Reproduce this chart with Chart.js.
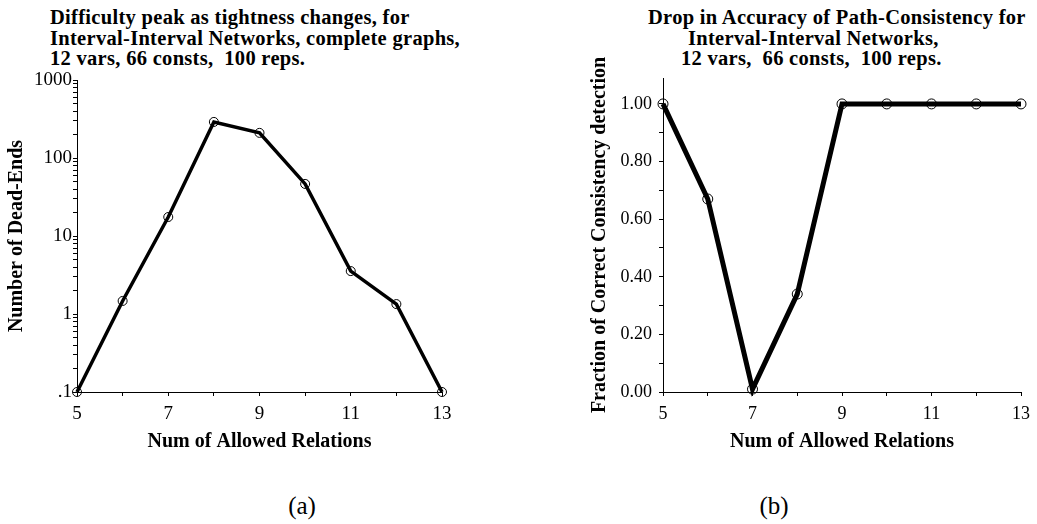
<!DOCTYPE html>
<html>
<head>
<meta charset="utf-8">
<script src="https://cdn.jsdelivr.net/npm/chart.js@4.4.1/dist/chart.umd.min.js"></script>
<style>
  html, body { margin: 0; padding: 0; background: #fff; }
  #page { position: relative; width: 1037px; height: 524px; overflow: hidden; font-family: "Liberation Serif", "Times New Roman", serif; color: #000; }
  .panel { position: absolute; top: 0; height: 470px; }
  .title { position: absolute; font-weight: bold; font-size: 20.5px; letter-spacing: 0.3px; line-height: 20.5px; white-space: pre; }
  .caption { position: absolute; top: 492px; font-size: 25px; width: 60px; text-align: center; }
</style>
</head>
<body>
<div id="page">
  <div class="title" style="left:50px; top:7px;">Difficulty peak as tightness changes, for
Interval-Interval Networks, complete graphs,
12 vars, 66 consts,  100 reps.</div>
  <div class="title" style="left:648px; top:7px;">Drop in Accuracy of Path-Consistency for
<span style="padding-left:40px">Interval-Interval Networks,</span>
<span style="padding-left:33px">12 vars,  66 consts,  100 reps.</span></div>

  <div class="panel" style="left:0; width:470px;"><canvas id="DEADENDS"></canvas></div>
  <div class="panel" style="left:540px; width:497px;"><canvas id="ACCURACY"></canvas></div>

  <div class="caption" style="left:272px;">(a)</div>
  <div class="caption" style="left:744px;">(b)</div>
</div>

<script>
// Datos: número de relaciones permitidas
const relations = [5, 6, 7, 8, 9, 10, 11, 12, 13];
// (a) dead-ends promedio
const deadEnds = [0.1, 1.47, 17.5, 290, 210, 46.5, 3.55, 1.34, 0.1];
// (b) fracción de detección correcta de consistencia
const pcAccuracy = [1.00, 0.67, 0.01, 0.34, 1.00, 1.00, 1.00, 1.00, 1.00];

// Etiquetas de los ejes
const xTickLabels = ['5', '7', '9', '11', '13'];
const logMajorTicks = [0.1, 1, 10, 100, 1000];
const logTickLabels = ['.1', '1', '10', '100', '1000'];
const accTickValues = [0, 0.2, 0.4, 0.6, 0.8, 1.0];
const accTickLabels = ['0.00', '0.20', '0.40', '0.60', '0.80', '1.00'];

const SERIF = '"Liberation Serif", "Times New Roman", serif';
Chart.defaults.font.family = SERIF;
Chart.defaults.color = '#000';

const axisGrid = {
  display: true,
  drawOnChartArea: false,
  drawTicks: true,
  tickLength: 4,
  color: '#000',
  lineWidth: 1
};
const axisBorder = { display: true, color: '#000', width: 1 };
const titleFont = { family: SERIF, size: 20, weight: 'bold' };

function xAxis(tickSize) {
  return {
    type: 'linear',
    min: 5,
    max: 13,
    grid: axisGrid,
    border: axisBorder,
    afterBuildTicks: (scale) => {
      scale.ticks = relations.map(v => ({ value: v }));
    },
    afterFit: (scale) => { scale.height = 78; },
    ticks: {
      autoSkip: false,
      maxRotation: 0,
      padding: 7,
      font: { family: SERIF, size: tickSize },
      callback: (v) => {
        const i = xTickLabels.indexOf(String(v));
        return i >= 0 ? xTickLabels[i] : '';
      }
    },
    title: {
      display: true,
      text: 'Num of Allowed Relations',
      font: titleFont,
      padding: { top: 0, bottom: 16 }
    }
  };
}

function points(ys) {
  return relations.map((x, i) => ({ x: x, y: ys[i] }));
}

// (a) escala logarítmica
new Chart(document.getElementById('DEADENDS'), {
  type: 'line',
  data: {
    datasets: [{
      data: points(deadEnds),
      borderColor: '#000',
      borderWidth: 3.5,
      tension: 0,
      clip: false,
      pointRadius: 4.5,
      pointBorderWidth: 1,
      pointBorderColor: '#000',
      pointBackgroundColor: 'rgba(0,0,0,0)'
    }]
  },
  options: {
    responsive: true,
    maintainAspectRatio: false,
    animation: false,
    layout: { padding: { top: 80, right: 28, left: 0, bottom: 0 } },
    plugins: { legend: { display: false }, tooltip: { enabled: false } },
    scales: {
      x: xAxis(19),
      y: {
        type: 'logarithmic',
        min: 0.1,
        max: 1000,
        grid: axisGrid,
        border: axisBorder,
        afterBuildTicks: (scale) => {
          const t = [];
          logMajorTicks.forEach((m, i) => {
            t.push({ value: m, major: true });
            if (i < logMajorTicks.length - 1) {
              for (let k = 2; k <= 9; k++) t.push({ value: m * k });
            }
          });
          scale.ticks = t;
        },
        afterFit: (scale) => { scale.width = 77; },
        ticks: {
          autoSkip: false,
          padding: 1,
          font: { family: SERIF, size: 19 },
          callback: (v) => {
            const i = logMajorTicks.findIndex(m => Math.abs(m - v) < 1e-9);
            return i >= 0 ? logTickLabels[i] : '';
          }
        },
        title: {
          display: true,
          text: 'Number of Dead-Ends',
          font: titleFont,
          padding: { top: 5, bottom: 0 }
        }
      }
    }
  }
});

// (b) escala lineal 0..1
new Chart(document.getElementById('ACCURACY'), {
  type: 'line',
  data: {
    datasets: [{
      data: points(pcAccuracy),
      borderColor: '#000',
      borderWidth: 5,
      tension: 0,
      clip: false,
      pointRadius: 5,
      pointBorderWidth: 1,
      pointBorderColor: '#000',
      pointBackgroundColor: 'rgba(0,0,0,0)'
    }]
  },
  options: {
    responsive: true,
    maintainAspectRatio: false,
    animation: false,
    layout: { padding: { top: 78, right: 11, left: 0, bottom: 0 } },
    plugins: { legend: { display: false }, tooltip: { enabled: false } },
    scales: {
      x: xAxis(18),
      y: {
        type: 'linear',
        min: 0,
        max: 1.09,
        grid: axisGrid,
        border: axisBorder,
        afterBuildTicks: (scale) => {
          const t = [];
          for (let k = 0; k <= 10; k++) t.push({ value: k / 10 });
          scale.ticks = t;
        },
        afterFit: (scale) => { scale.width = 123; },
        ticks: {
          autoSkip: false,
          padding: 7,
          font: { family: SERIF, size: 18 },
          callback: (v) => {
            const i = accTickValues.findIndex(a => Math.abs(a - v) < 1e-9);
            return i >= 0 ? accTickLabels[i] : '';
          }
        },
        title: {
          display: true,
          text: 'Fraction of Correct Consistency detection',
          font: titleFont,
          padding: { top: 48, bottom: 0 }
        }
      }
    }
  }
});
</script>
</body>
</html>
